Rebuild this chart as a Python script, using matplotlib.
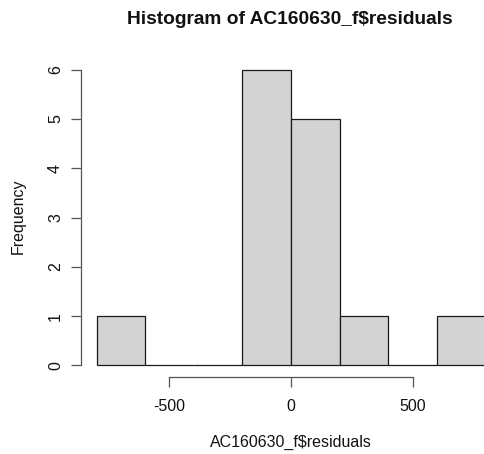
import matplotlib
matplotlib.use("Agg")
import matplotlib.pyplot as plt

# Histogram of model residuals: bin edges and counts
bin_edges = [-800, -600, -400, -200, 0, 200, 400, 600, 800]
counts = [1, 0, 0, 6, 5, 1, 0, 1]
x_ticks = [-500, 0, 500]
y_ticks = [0, 1, 2, 3, 4, 5, 6]

title = "Histogram of AC160630_f$residuals"
xlabel = "AC160630_f$residuals"
ylabel = "Frequency"

plt.rcParams["font.family"] = ["Liberation Sans", "DejaVu Sans"]

W, H, DPI = 485, 454, 100
fig = plt.figure(figsize=(W / DPI, H / DPI), dpi=DPI)

# plot region in pixels (R-style: data range padded by 4%)
left_px, right_px, top_px, bot_px = 81, 501, 57.7, 377.3
ax = fig.add_axes([left_px / W, 1 - bot_px / H,
                   (right_px - left_px) / W, (bot_px - top_px) / H])

xr = bin_edges[-1] - bin_edges[0]
ax.set_xlim(bin_edges[0] - 0.04 * xr, bin_edges[-1] + 0.04 * xr)
ymax = max(counts)
ax.set_ylim(-0.04 * ymax, ymax * 1.04)

lefts = bin_edges[:-1]
widths = [b - a for a, b in zip(bin_edges[:-1], bin_edges[1:])]
ax.bar(lefts, counts, width=widths, align="edge", color="#D3D3D3",
       edgecolor="#1a1a1a", linewidth=0.9)

for s in ["top", "right"]:
    ax.spines[s].set_visible(False)
for s in ["left", "bottom"]:
    ax.spines[s].set_color("#555555")
    ax.spines[s].set_linewidth(0.9)
ax.spines["bottom"].set_bounds(x_ticks[0], x_ticks[-1])
ax.spines["left"].set_bounds(y_ticks[0], y_ticks[-1])

ax.set_xticks(x_ticks)
ax.set_xticklabels([str(v) for v in x_ticks])
ax.set_yticks(y_ticks)
ax.set_yticklabels([str(v) for v in y_ticks], rotation=90, va="center")
ax.tick_params(axis="both", direction="out", length=7, width=0.9,
               color="#555555", labelsize=11.5, labelcolor="#111111")
xpad, ypad = 6.0, 5.0
ax.tick_params(axis="x", pad=xpad)
ax.tick_params(axis="y", pad=ypad)

# place tick labels at fixed pixel distances from the plot edge
fig.canvas.draw()
rend = fig.canvas.get_renderer()
bb = ax.get_yticklabels()[0].get_window_extent(rend)
cx = (bb.x0 + bb.x1) / 2
ypad += (cx - 55.5) * 72 / DPI
bb = ax.get_xticklabels()[1].get_window_extent(rend)
cy = (bb.y0 + bb.y1) / 2
xpad += (cy - (H - 406.8)) * 72 / DPI
ax.tick_params(axis="x", pad=xpad)
ax.tick_params(axis="y", pad=ypad)

fig.text(290 / W, 1 - 20 / H, title, ha="center", va="center",
         fontsize=13.8, fontweight="bold", color="#111111")
fig.text(291 / W, 1 - 442 / H, xlabel, ha="center", va="center",
         fontsize=11.5, color="#111111")
fig.text(18 / W, 1 - 216 / H, ylabel, ha="center", va="center",
         rotation=90, fontsize=11.5, color="#111111")

fig.savefig("out.png", dpi=DPI)
